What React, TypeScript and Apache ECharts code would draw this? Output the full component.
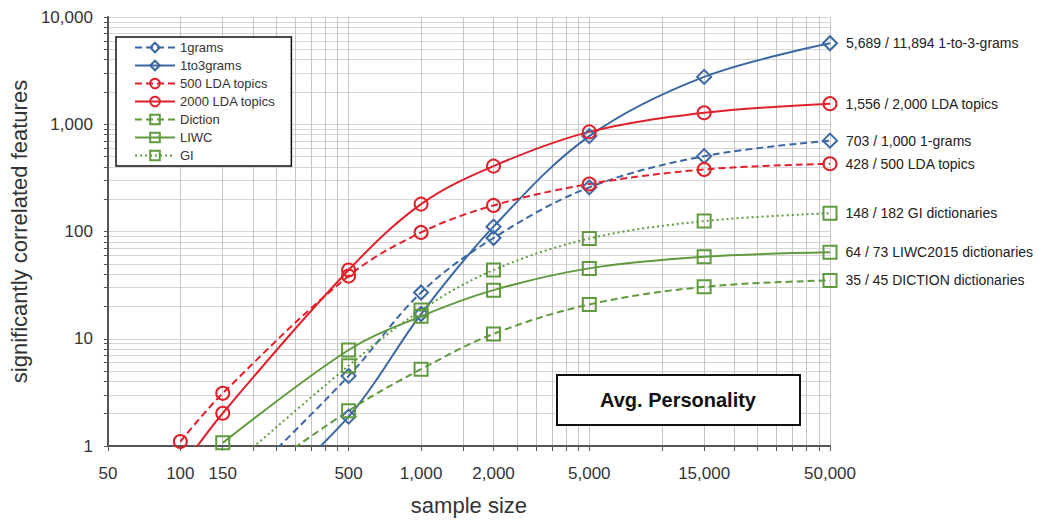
import React, { useEffect, useRef } from 'react';
import * as echarts from 'echarts';

const sampleSizes = [100, 150, 500, 1000, 2000, 5000, 15000, 50000];
const oneGrams = [null, 0.3, 4.5, 27, 87, 258, 504, 703];
const oneToThreeGrams = [null, 0.14, 1.88, 17, 111, 775, 2765, 5689];
const lda500 = [1.1, 3.1, 38.4, 98, 175, 277, 379, 428];
const lda2000 = [0.6, 2.02, 43.7, 180, 407, 849, 1277, 1556];
const diction = [null, 0.32, 2.13, 5.2, 11.1, 20.9, 30.5, 35];
const liwc = [null, 1.07, 7.85, 16.2, 28.4, 45.3, 58, 64];
const gi = [null, 0.55, 5.6, 18.5, 43.7, 86, 125, 148];

const seriesNames = ['1grams', '1to3grams', '500 LDA topics', '2000 LDA topics', 'Diction', 'LIWC', 'GI'];
const endLabels = [
  '703 / 1,000 1-grams',
  '5,689 / 11,894 1-to-3-grams',
  '428 / 500 LDA topics',
  '1,556 / 2,000 LDA topics',
  '35 / 45 DICTION dictionaries',
  '64 / 73 LIWC2015 dictionaries',
  '148 / 182 GI dictionaries',
];

const xLabelValues = [50, 100, 150, 500, 1000, 2000, 5000, 15000, 50000];
const xGridValues = [
  50, 100, 150, 200, 250, 300, 350, 400, 450, 500,
  1000, 1500, 2000, 2500, 3000, 3500, 4000, 4500, 5000,
  10000, 15000, 20000, 25000, 30000, 35000, 40000, 45000, 50000,
];
const yLabelValues = [1, 10, 100, 1000, 10000];
const yGridValues = [
  1, 2, 3, 4, 5, 6, 7, 8, 9,
  10, 20, 30, 40, 50, 60, 70, 80, 90,
  100, 200, 300, 400, 500, 600, 700, 800, 900,
  1000, 2000, 3000, 4000, 5000, 6000, 7000, 8000, 9000, 10000,
];

const BLUE = '#3b67a3';
const RED = '#e0212b';
const GREEN = '#5f9a3d';

const FONT = 'Liberation Sans, Arial, sans-serif';
const fmt = (v: number) => Math.round(v).toLocaleString('en-US');

export default function App() {
  const ref = useRef<HTMLDivElement>(null);
  useEffect(() => {
    if (!ref.current) return;
    const chart = echarts.init(ref.current, undefined, { renderer: 'svg' });
    const allValues = [oneGrams, oneToThreeGrams, lda500, lda2000, diction, liwc, gi];
    const styles = [
      { color: BLUE, type: [7, 4], symbol: 'diamond', size: 14 },
      { color: BLUE, type: 'solid', symbol: 'diamond', size: 14 },
      { color: RED, type: [7, 4], symbol: 'circle', size: 13 },
      { color: RED, type: 'solid', symbol: 'circle', size: 13 },
      { color: GREEN, type: [7, 4], symbol: 'rect', size: 13 },
      { color: GREEN, type: 'solid', symbol: 'rect', size: 13 },
      { color: GREEN, type: [2, 3], symbol: 'rect', size: 13 },
    ];
    const series = seriesNames.map((name, i) => {
      const vals = allValues[i];
      const st = styles[i];
      const data: any[] = [];
      sampleSizes.forEach((x, j) => {
        const v = vals[j];
        if (v == null) return;
        if (j === sampleSizes.length - 1) {
          data.push({
            value: [x, v],
            label: {
              show: true,
              position: 'right',
              distance: 8,
              formatter: endLabels[i],
              fontFamily: FONT,
              fontSize: 14,
              color: '#222',
            },
          });
        } else {
          data.push([x, v]);
        }
      });
      return {
        name,
        type: 'line',
        data,
        smooth: 0.35,
        symbol: st.symbol,
        symbolSize: st.size,
        showAllSymbol: true,
        clip: true,
        lineStyle: { color: st.color, width: 2, type: st.type as any },
        itemStyle: { color: 'rgba(255,255,255,0)', borderColor: st.color, borderWidth: 2 },
        z: 3,
      };
    });

    chart.setOption({
      animation: false,
      backgroundColor: '#fff',
      grid: { left: 96, right: 233, top: 17, bottom: 75, containLabel: false },
      xAxis: {
        type: 'log',
        logBase: 10,
        min: 50,
        max: 50000,
        name: 'sample size',
        nameLocation: 'middle',
        nameGap: 48,
        nameTextStyle: { fontFamily: FONT, fontSize: 22, color: '#333' },
        axisLine: { show: true, lineStyle: { color: '#555', width: 2 } },
        axisTick: { show: true, customValues: xGridValues, length: 5, lineStyle: { color: '#555', width: 1 } },
        axisLabel: {
          customValues: xLabelValues,
          formatter: (v: number) => fmt(v),
          fontFamily: FONT,
          fontSize: 17,
          color: '#333',
          margin: 19,
        },
        splitLine: { show: true, lineStyle: { color: '#c6c6c6', width: 1 } },
      },
      yAxis: {
        type: 'log',
        logBase: 10,
        min: 1,
        max: 10000,
        name: 'significantly correlated features',
        nameLocation: 'middle',
        nameGap: 49,
        nameTextStyle: { fontFamily: FONT, fontSize: 22, color: '#333' },
        axisLine: { show: true, lineStyle: { color: '#555', width: 2 } },
        axisTick: { show: true, customValues: yGridValues, length: 4, lineStyle: { color: '#555', width: 1 } },
        axisLabel: {
          customValues: yLabelValues,
          formatter: (v: number) => fmt(v),
          fontFamily: FONT,
          fontSize: 17,
          color: '#333',
          margin: 15,
        },
        splitLine: { show: true, lineStyle: { color: '#d6d6d6', width: 1 } },
      },
      legend: {
        show: true,
        orient: 'vertical',
        left: 116,
        top: 37,
        data: seriesNames,
        backgroundColor: '#fff',
        borderColor: '#111',
        borderWidth: 1.5,
        padding: [4, 16, 4, 18],
        itemGap: 5,
        itemWidth: 40,
        itemHeight: 12,
        textStyle: { fontFamily: FONT, fontSize: 13, color: '#333' },
      },
      graphic: [
        {
          type: 'rect',
          z: 100,
          shape: { x: 557, y: 375, width: 243, height: 50 },
          style: { fill: '#fff', stroke: '#111', lineWidth: 2, lineDash: null },
        },
        {
          type: 'text',
          z: 101,
          x: 678,
          y: 400,
          style: {
            text: 'Avg. Personality',
            fontFamily: FONT,
            fontWeight: 'bold',
            fontSize: 20,
            fill: '#111',
            align: 'center',
            verticalAlign: 'middle',
          },
        },
      ],
      series,
    });
    return () => chart.dispose();
  }, []);
  return (
    <div
      ref={ref}
      style={{ position: 'fixed', left: 0, top: 0, width: 1063, height: 521 }}
    />
  );
}
